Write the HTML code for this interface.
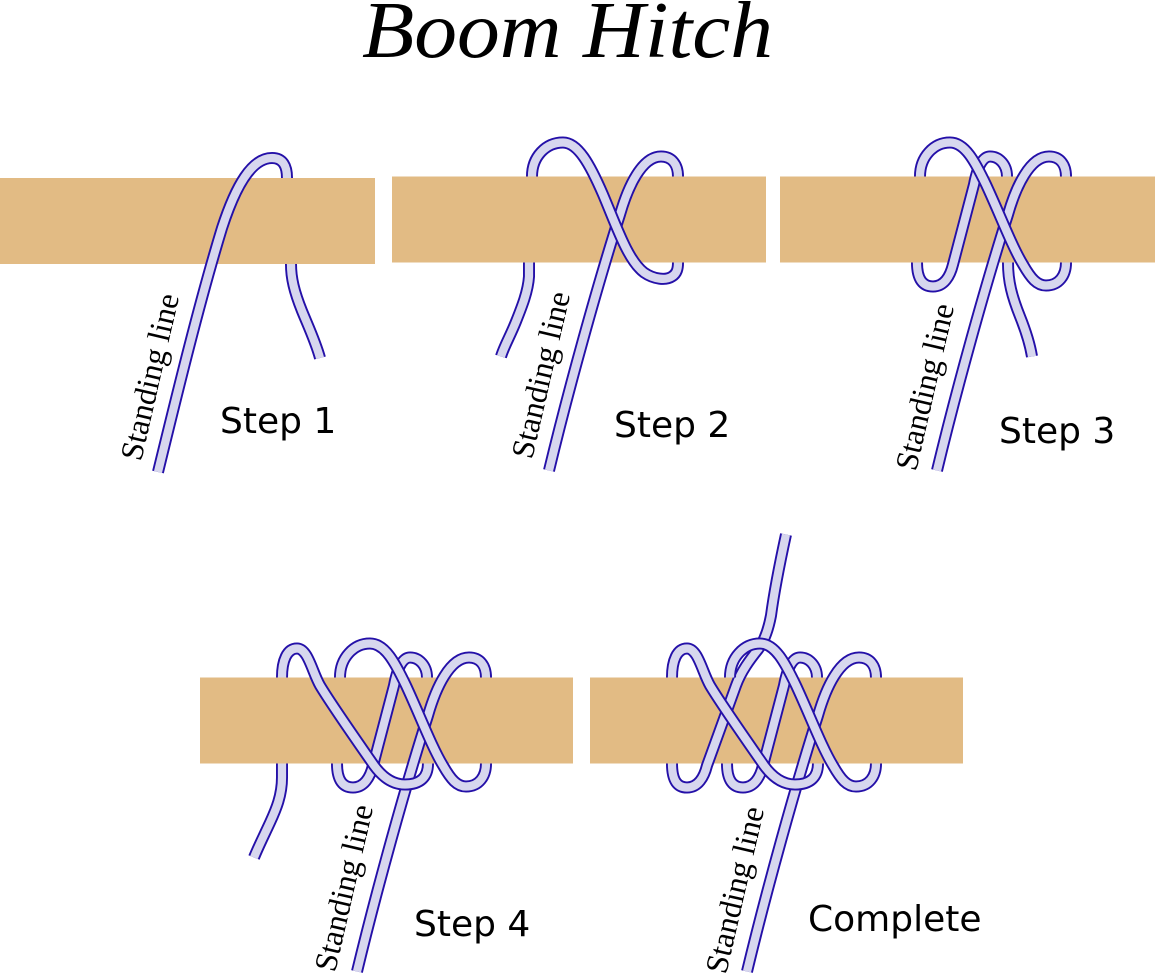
<!DOCTYPE html>
<html>
<head>
<meta charset="utf-8">
<style>
html,body{margin:0;padding:0;background:#ffffff;}
svg{display:block;}
.o{fill:none;stroke:#2410a8;stroke-width:12;stroke-linecap:butt;stroke-linejoin:round;}
.i{fill:none;stroke:#d7d7ee;stroke-width:8.2;stroke-linecap:butt;stroke-linejoin:round;}
.bar{fill:#e2bb84;}
.lbl{font-family:"DejaVu Sans","Liberation Sans",sans-serif;font-size:36px;fill:#000;}
.sl{font-family:"Liberation Serif",serif;font-size:32px;fill:#000;}
</style>
</head>
<body>
<svg width="1155" height="978" viewBox="0 0 1155 978" xmlns="http://www.w3.org/2000/svg" xmlns:xlink="http://www.w3.org/1999/xlink">
<defs>
  <path id="S1" d="M158,294 C178,212 200,122 222,50 C236,7 252,-20 272,-20 C283,-20 287,-12 287,0"/>
  <path id="B1" d="M287,0 L291,86"/>
  <path id="T1" d="M291,86 C291,100 294,113 302,133 C309,150 316,165 320,180"/>
  <path id="S" d="M157,294 C176,215 205,110 228,38 C236,10 250,-20 269,-20 C280,-20 286,-12 286,0"/>
  <path id="Dback" d="M286,0 L286,86"/>
  <path id="Bback" d="M140,0 L137,86"/>
  <path id="Cback" d="M227,0 L228,86"/>
  <path id="Aback" d="M82,0 L82,86"/>
  <path id="loop2" d="M140,0 C140,-20 154,-34 171,-34 C186,-34 198,-12 211,18 C225,51 236,84 252,96 C262,103 274,104 280,100 C285,97 286,92 286,86"/>
  <path id="tail2" d="M137,86 L137,100 C136,115 130,130 124,145 C118,160 112,170 109,180"/>
  <path id="Bdiag" d="M140,0 C140,-20 154,-34 170,-34 C185,-34 195,-15 206,8 C220,38 232,70 243,88 C251,102 257,109 266,109 C279,109 286,99 286,86"/>
  <path id="loop1C" d="M137,86 C137,103 143,110 153,110 C164,110 170,100 173,88 L194,8 C197,-8 202,-20 210,-20 C219,-20 227,-12 227,0"/>
  <path id="tail3" d="M228,86 C228,105 232,120 240,140 C246,155 250,168 252,180"/>
  <path id="bigA" d="M228,86 C228,100 220,107 205,107 C192,107 182,99 174,88 C156,62 132,28 120,8 C112,-6 108,-29 97,-29 C87,-29 82,-17 82,0"/>
  <path id="tail4" d="M82,86 L82,100 C82,118 76,132 70,145 C64,158 58,170 54,180"/>
  <path id="tuck" d="M82,86 C82,104 88,110 97,110 C108,110 114,100 117,88 L146,8 C151,-6 160,-18 168,-28 C174,-36 178,-46 181,-62 C185,-92 191,-120 196,-143"/>
</defs>

<text x="362" y="57" font-family="Liberation Serif, serif" font-style="italic" font-size="80" textLength="411" lengthAdjust="spacingAndGlyphs" fill="#000">Boom Hitch</text>

<!-- STEP 1 -->
<g transform="translate(0,178)">
  <use href="#B1" class="o"/><use href="#B1" class="i"/>
  <rect class="bar" x="0" y="0" width="375" height="86"/>
  <use href="#T1" class="o"/><use href="#T1" class="i"/>
  <use href="#S1" class="o"/><use href="#S1" class="i"/>
</g>
<text class="sl" transform="translate(141,462) rotate(-77)" textLength="170" lengthAdjust="spacingAndGlyphs">Standing line</text>
<text class="lbl" x="220" y="433">Step 1</text>

<!-- STEP 2 -->
<g transform="translate(392,176.5)">
  <use href="#Dback" class="o"/><use href="#Dback" class="i"/>
  <use href="#Bback" class="o"/><use href="#Bback" class="i"/>
  <rect class="bar" x="0" y="0" width="374" height="86"/>
  <use href="#tail2" class="o"/><use href="#tail2" class="i"/>
  <use href="#S" class="o"/><use href="#S" class="i"/>
  <use href="#loop2" class="o"/><use href="#loop2" class="i"/>
</g>
<text class="sl" transform="translate(532,460) rotate(-77)" textLength="170" lengthAdjust="spacingAndGlyphs">Standing line</text>
<text class="lbl" x="614" y="437">Step 2</text>

<!-- STEP 3 -->
<g transform="translate(780,176.5)">
  <use href="#Dback" class="o"/><use href="#Dback" class="i"/>
  <use href="#Bback" class="o"/><use href="#Bback" class="i"/>
  <use href="#Cback" class="o"/><use href="#Cback" class="i"/>
  <rect class="bar" x="0" y="0" width="375" height="86"/>
  <use href="#tail3" class="o"/><use href="#tail3" class="i"/>
  <use href="#S" class="o"/><use href="#S" class="i"/>
  <use href="#loop1C" class="o"/><use href="#loop1C" class="i"/>
  <use href="#Bdiag" class="o"/><use href="#Bdiag" class="i"/>
</g>
<text class="sl" transform="translate(916,472) rotate(-77)" textLength="170" lengthAdjust="spacingAndGlyphs">Standing line</text>
<text class="lbl" x="999" y="443">Step 3</text>

<!-- STEP 4 -->
<g transform="translate(200,677.5)">
  <use href="#Dback" class="o"/><use href="#Dback" class="i"/>
  <use href="#Bback" class="o"/><use href="#Bback" class="i"/>
  <use href="#Cback" class="o"/><use href="#Cback" class="i"/>
  <use href="#Aback" class="o"/><use href="#Aback" class="i"/>
  <rect class="bar" x="0" y="0" width="373" height="86"/>
  <use href="#tail4" class="o"/><use href="#tail4" class="i"/>
  <use href="#S" class="o"/><use href="#S" class="i"/>
  <use href="#loop1C" class="o"/><use href="#loop1C" class="i"/>
  <use href="#Bdiag" class="o"/><use href="#Bdiag" class="i"/>
  <use href="#bigA" class="o"/><use href="#bigA" class="i"/>
</g>
<text class="sl" transform="translate(335,973) rotate(-77)" textLength="170" lengthAdjust="spacingAndGlyphs">Standing line</text>
<text class="lbl" x="414" y="936">Step 4</text>

<!-- COMPLETE -->
<g transform="translate(590,677.5)">
  <use href="#Dback" class="o"/><use href="#Dback" class="i"/>
  <use href="#Bback" class="o"/><use href="#Bback" class="i"/>
  <use href="#Cback" class="o"/><use href="#Cback" class="i"/>
  <use href="#Aback" class="o"/><use href="#Aback" class="i"/>
  <rect class="bar" x="0" y="0" width="373" height="86"/>
  <use href="#S" class="o"/><use href="#S" class="i"/>
  <use href="#tuck" class="o"/><use href="#tuck" class="i"/>
  <use href="#loop1C" class="o"/><use href="#loop1C" class="i"/>
  <use href="#Bdiag" class="o"/><use href="#Bdiag" class="i"/>
  <use href="#bigA" class="o"/><use href="#bigA" class="i"/>
</g>
<text class="sl" transform="translate(726,975) rotate(-77)" textLength="170" lengthAdjust="spacingAndGlyphs">Standing line</text>
<text class="lbl" x="808" y="931">Complete</text>
</svg>
</body>
</html>
